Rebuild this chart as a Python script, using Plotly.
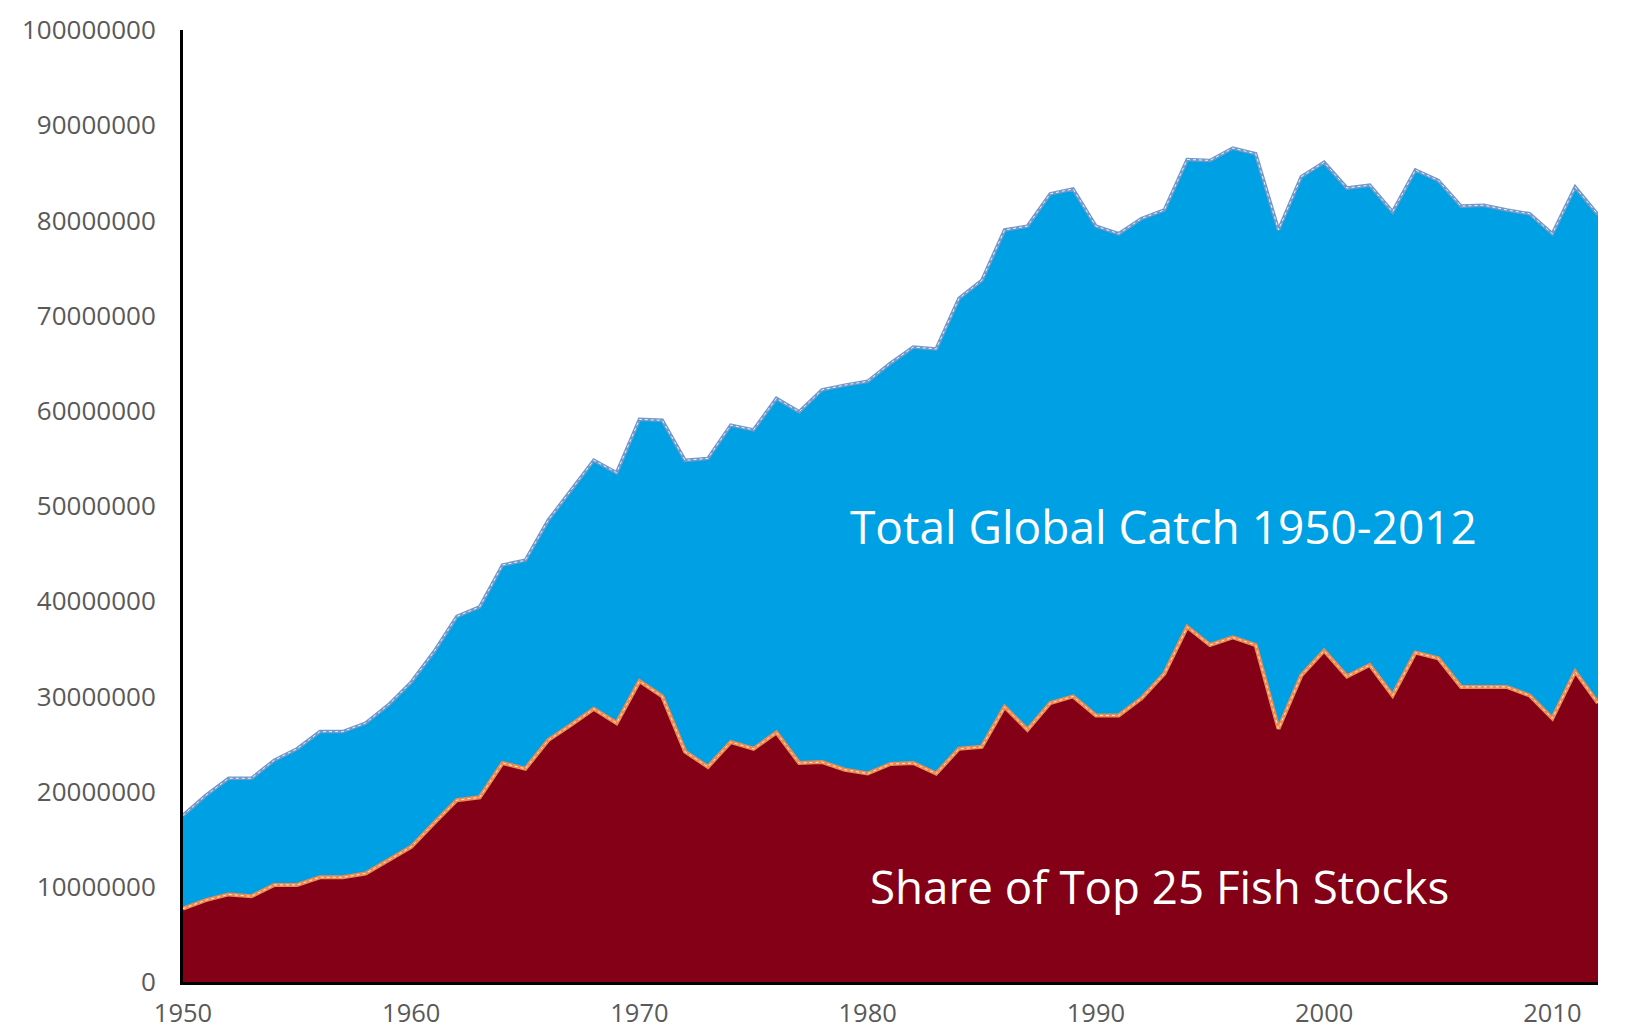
import plotly.graph_objects as go

years = list(range(1950, 2013))

total_catch = [
    17.5, 19.6, 21.4, 21.4, 23.3, 24.5, 26.3, 26.3, 27.2, 29.1,
    31.5, 34.7, 38.4, 39.4, 43.8, 44.3, 48.5, 51.7, 54.8, 53.5,
    59.1, 59.0, 54.8, 55.0, 58.5, 58.0, 61.3, 59.9, 62.2, 62.7,
    63.1, 65.0, 66.7, 66.5, 71.8, 73.7, 79.0, 79.4, 82.8, 83.3,
    79.4, 78.6, 80.2, 81.1, 86.4, 86.3, 87.6, 87.0, 79.0, 84.6,
    86.1, 83.4, 83.7, 80.9, 85.3, 84.2, 81.5, 81.6, 81.1, 80.7,
    78.6, 83.5, 80.6,
]

top25_share = [
    7.7, 8.6, 9.2, 9.0, 10.2, 10.2, 11.0, 11.0, 11.4, 12.8,
    14.2, 16.7, 19.1, 19.4, 23.0, 22.4, 25.4, 27.0, 28.7, 27.2,
    31.6, 30.0, 24.2, 22.6, 25.2, 24.5, 26.2, 23.0, 23.1, 22.3,
    21.9, 22.9, 23.0, 21.9, 24.5, 24.7, 28.9, 26.5, 29.3, 30.0,
    28.0, 28.0, 29.8, 32.4, 37.3, 35.4, 36.2, 35.4, 26.6, 32.2,
    34.8, 32.1, 33.3, 30.1, 34.6, 34.0, 31.0, 31.0, 31.0, 30.1,
    27.7, 32.6, 29.3,
]

# values read in millions of tonnes, chart shows raw numbers
total_catch = [v * 1e6 for v in total_catch]
top25_share = [v * 1e6 for v in top25_share]

y_ticks = list(range(0, 100000001, 10000000))
x_ticks = [1950, 1960, 1970, 1980, 1990, 2000, 2010]

fig = go.Figure()

fig.add_trace(go.Scatter(
    x=years, y=total_catch, mode="lines", fill="tozeroy",
    fillcolor="#00A1E4", line=dict(color="#7399c9", width=3.5),
    hoverinfo="skip", showlegend=False,
))
fig.add_trace(go.Scatter(
    x=years, y=total_catch, mode="lines",
    line=dict(color="#e6f2ff", width=1, dash="dot"),
    hoverinfo="skip", showlegend=False,
))
fig.add_trace(go.Scatter(
    x=years, y=top25_share, mode="lines", fill="tozeroy",
    fillcolor="#840016", line=dict(color="#ef8a4f", width=4),
    hoverinfo="skip", showlegend=False,
))
fig.add_trace(go.Scatter(
    x=years, y=top25_share, mode="lines",
    line=dict(color="#fde7d6", width=1, dash="dot"),
    hoverinfo="skip", showlegend=False,
))

fig.add_annotation(
    x=1992.95, y=47.9e6, xref="x", yref="y", showarrow=False,
    text="Total Global Catch 1950-2012",
    font=dict(family="Open Sans", size=46, color="white"),
)
fig.add_annotation(
    x=1992.78, y=10.1e6, xref="x", yref="y", showarrow=False,
    text="Share of Top 25 Fish Stocks",
    font=dict(family="Open Sans", size=45.7, color="white"),
)

# the page keeps its default 8px body margin, so the figure is sized to fit
fig.update_layout(
    width=1623, height=1025,
    margin=dict(l=175, r=33, t=22, b=51),
    paper_bgcolor="white",
    plot_bgcolor="white",
    font=dict(family="Open Sans", color="#595959"),
    xaxis=dict(
        range=[1950, 2012], tickvals=x_ticks, showgrid=False, zeroline=False,
        showline=True, linecolor="black", linewidth=3, automargin=False,
        tickfont=dict(size=25.5, color="#595959"), ticks="", ticklabelstandoff=6,
    ),
    yaxis=dict(
        range=[0, 100000000], tickvals=y_ticks, tickformat="d",
        showgrid=False, zeroline=False, automargin=False,
        showline=True, linecolor="black", linewidth=3,
        tickfont=dict(size=26, color="#595959"), ticks="", ticklabelstandoff=19,
    ),
)

fig.write_html("out.html")
